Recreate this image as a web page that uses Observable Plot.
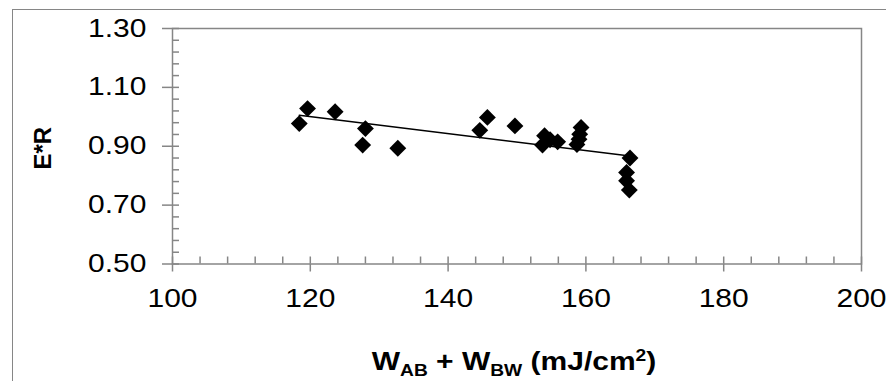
<!DOCTYPE html>
<html><head><meta charset="utf-8">
<script src="https://cdn.jsdelivr.net/npm/d3@7"></script>
<script src="https://cdn.jsdelivr.net/npm/@observablehq/plot@0.6"></script>
<style>
html,body{margin:0;padding:0;background:#fff;overflow:hidden}
#wrap{position:relative;width:886px;height:381px}
#border{position:absolute;left:12px;top:9px;width:900px;height:400px;border-left:1px solid #868686;border-top:1px solid #868686;pointer-events:none}
</style></head><body><div id="wrap"><div id="border"></div></div>
<script>
// Data
const wSum = [118.4, 119.6, 123.6, 127.6, 128.0, 132.7, 144.6, 145.7, 149.7, 153.7, 154.0, 154.8, 155.9, 158.7, 159.0, 159.1, 159.3, 166.4, 165.9, 165.9, 166.3];
const ER   = [0.977, 1.028, 1.017, 0.904, 0.960, 0.893, 0.954, 0.998, 0.969, 0.904, 0.936, 0.922, 0.915, 0.906, 0.924, 0.941, 0.964, 0.860, 0.811, 0.783, 0.751];
const xMajorTicks = [100, 120, 140, 160, 180, 200];
const yMajorTicks = [0.50, 0.70, 0.90, 1.10, 1.30];
const yLabel = "E*R";
const xLabelParts = [["W", ""], ["AB", "sub"], [" + W", ""], ["BW", "sub"], [" (mJ/cm", ""], ["2", "sup"], [")", ""]];
const xLabel = xLabelParts.map(p => p[0]).join("");

const data = wSum.map((x, i) => ({x, y: ER[i]}));
const xMinor = d3.range(100, 200.001, 4);
const yMinor = d3.range(0.5, 1.30001, 0.04);
const axisColor = "#868686";
const W = 886, H = 381, mL = 172, mR = 25, mT = 28, mB = 117.5;
const plotW = W - mL - mR, plotH = H - mT - mB;

const chart = Plot.plot({
  width: W, height: H,
  marginLeft: mL, marginRight: mR, marginTop: mT, marginBottom: mB,
  style: {fontFamily: "'Liberation Sans', Arial, sans-serif", fontSize: "25px", color: "black", background: "transparent", overflow: "visible"},
  x: {domain: [100, 200]},
  y: {domain: [0.5, 1.3]},
  marks: [
    Plot.frame({stroke: axisColor, strokeWidth: 1.5}),
    Plot.tickX(xMinor, {x: d => d, insetTop: plotH - 7, stroke: axisColor, strokeWidth: 1.5}),
    Plot.tickY(yMinor, {y: d => d, insetRight: plotW - 7, stroke: axisColor, strokeWidth: 1.5}),
    Plot.axisX({ticks: xMajorTicks, tickSize: 8, tickPadding: 17, tickFormat: d => String(d), stroke: axisColor, strokeWidth: 1.5, fill: "black", label: null, fontSize: 25}),
    Plot.axisY({ticks: yMajorTicks, tickSize: 10, tickPadding: 16, tickFormat: d => d.toFixed(2), stroke: axisColor, strokeWidth: 1.5, fill: "black", label: null, fontSize: 25}),
    Plot.linearRegressionY(data, {x: "x", y: "y", ci: 0, stroke: "black", strokeWidth: 1.5}),
    Plot.dot(data, {x: "x", y: "y", symbol: "diamond2", r: 7.6, fill: "black", stroke: "none"}),
    Plot.text([yLabel], {frameAnchor: "left", textAnchor: "middle", lineAnchor: "middle", dx: -129, dy: 2, rotate: -90, fontWeight: "bold", fontSize: 24, fill: "black"}),
    Plot.text([xLabel], {frameAnchor: "bottom", textAnchor: "middle", dx: -3, dy: 88, lineAnchor: "top", fontWeight: "bold", fontSize: 25, fill: "black"})
  ]
});
chart.style.position = "absolute";
chart.style.left = "0px";
chart.style.top = "0px";
document.getElementById("wrap").prepend(chart);

// Rich text for the x label (subscripts / superscript)
d3.select(chart).selectAll("text").each(function() {
  if (this.textContent === xLabel) {
    const t = d3.select(this);
    t.text(null);
    let shift = 0;
    for (const [s, kind] of xLabelParts) {
      const target = kind === "sub" ? 6 : kind === "sup" ? -9 : 0;
      const sp = t.append("tspan").text(s).attr("dy", target - shift);
      if (kind) sp.attr("font-size", "16px");
      shift = target;
    }
  }
});
// Horizontal text in the reference is widened along its baseline
d3.select(chart).selectAll("text").each(function() {
  if (this.textContent === yLabel) return;
  const x = parseFloat(this.getAttribute("x")) || 0;
  const tr = this.getAttribute("transform") || "";
  this.setAttribute("transform", `${tr} translate(${x},0) scale(1.2,1) translate(${-x},0)`);
});
</script>
</body></html>
